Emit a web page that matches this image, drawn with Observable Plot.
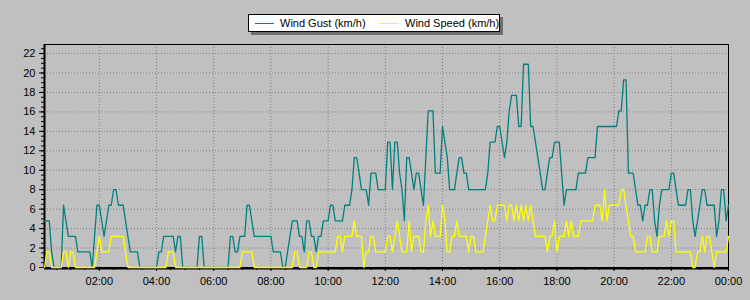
<!DOCTYPE html>
<html>
<head>
<meta charset="utf-8">
<script src="https://cdn.jsdelivr.net/npm/d3@7"></script>
<script src="https://cdn.jsdelivr.net/npm/@observablehq/plot@0.6"></script>
<style>
  html, body { margin: 0; padding: 0; background: #c0c0c0; }
  #wrap { position: relative; width: 750px; height: 300px; overflow: hidden; background: #c0c0c0; }
  #legend { position: absolute; left: 248px; top: 14px; width: 250px; height: 16px; background: #fff;
            border: 1px solid #000; box-shadow: 3px 3px 0 #6f6f6f;
            font: 11px Arial, "Liberation Sans", sans-serif; color: #000; }
  #legend .sw { position: absolute; top: 8px; height: 1px; width: 19px; }
  #legend .lb { position: absolute; top: 1px; line-height: 14px; white-space: nowrap; }
</style>
</head>
<body>
<div id="wrap"><div id="chart"></div><div id="legend"></div></div>
<script>
// ---- data (5-minute samples, 00:05 .. 24:00) ----
const startUTC = Date.UTC(2021, 0, 1, 0, 0);
const stepMinutes = 5;

const gustKmh = [
  4.8,4.8,4.8,1.6,0,0,0,0,6.4,4.8,
  3.2,3.2,3.2,3.2,1.6,1.6,1.6,1.6,1.6,1.6,
  0,3.2,6.4,6.4,4.8,3.2,4.8,6.4,6.4,8,
  8,6.4,6.4,6.4,4.8,3.2,1.6,1.6,1.6,1.6,
  0,0,0,0,0,0,0,0,1.6,1.6,
  3.2,3.2,3.2,3.2,3.2,1.6,3.2,3.2,0,0,
  0,0,0,0,0,3.2,3.2,0,0,0,
  0,0,0,0,0,0,0,0,3.2,3.2,
  1.6,1.6,3.2,3.2,3.2,6.4,6.4,4.8,3.2,3.2,
  3.2,3.2,3.2,3.2,3.2,3.2,1.6,1.6,1.6,1.6,
  0,0,1.6,3.2,4.8,4.8,4.8,3.2,3.2,1.6,
  4.8,4.8,3.2,3.2,1.6,3.2,3.2,4.8,4.8,4.8,
  6.4,6.4,4.8,4.8,4.8,4.8,6.4,6.4,6.4,8,
  11.3,11.3,9.7,8,8,8,6.4,9.7,9.7,9.7,
  8,8,8,8,12.9,12.9,8,12.9,12.9,9.7,
  8,4.8,11.3,11.3,9.7,8,9.7,9.7,8,6.4,
  11.3,16.1,16.1,16.1,9.7,9.7,9.7,14.5,12.9,11.3,
  8,8,8,9.7,11.3,11.3,9.7,9.7,8,8,
  8,8,8,8,8,8,9.7,12.9,12.9,12.9,
  14.5,14.5,12.9,11.3,12.9,16.1,17.7,17.7,17.7,14.5,
  14.5,20.9,20.9,20.9,14.5,14.5,12.9,11.3,9.7,8,
  8,9.7,11.3,11.3,12.9,12.9,12.9,9.7,6.4,8,
  8,8,8,8,9.7,9.7,9.7,9.7,11.3,11.3,
  11.3,11.3,14.5,14.5,14.5,14.5,14.5,14.5,14.5,14.5,
  14.5,16.1,16.1,19.3,19.3,9.7,9.7,9.7,8,6.4,
  6.4,4.8,6.4,6.4,8,8,4.8,3.2,6.4,8,
  8,8,8,9.7,9.7,8,6.4,6.4,6.4,6.4,
  8,8,4.8,3.2,4.8,6.4,8,8,6.4,6.4,
  6.4,6.4,3.2,4.8,8,8,4.8,6.4
];

const speedKmh = [
  0,1.6,1.6,0,0,0,0,0,1.6,1.6,
  0,1.6,1.6,0,0,0,0,0,0,0,
  0,0,1.6,3.2,1.6,1.6,1.6,1.6,3.2,3.2,
  3.2,3.2,3.2,3.2,1.6,0,0,0,0,0,
  0,0,0,0,0,0,0,0,0,0,
  0,0,1.6,1.6,1.6,0,0,0,0,0,
  0,0,0,0,0,0,0,0,0,0,
  0,0,0,0,0,0,0,0,0,0,
  0,0,0,1.6,1.6,1.6,1.6,1.6,0,0,
  0,0,0,0,0,0,0,0,0,0,
  0,0,0,0,0,1.6,1.6,0,0,0,
  0,1.6,1.6,0,0,1.6,1.6,1.6,1.6,1.6,
  1.6,1.6,1.6,3.2,3.2,1.6,3.2,3.2,3.2,3.2,
  4.8,3.2,3.2,3.2,0,1.6,1.6,3.2,3.2,1.6,
  1.6,1.6,1.6,1.6,3.2,3.2,1.6,3.2,4.8,3.2,
  1.6,1.6,1.6,4.8,1.6,3.2,3.2,3.2,1.6,1.6,
  4.8,6.4,3.2,4.8,3.2,3.2,3.2,6.4,4.8,1.6,
  1.6,3.2,3.2,4.8,3.2,3.2,3.2,3.2,1.6,3.2,
  3.2,1.6,1.6,1.6,1.6,3.2,4.8,6.4,4.8,4.8,
  6.4,6.4,6.4,6.4,4.8,6.4,6.4,4.8,6.4,4.8,
  6.4,4.8,6.4,4.8,6.4,4.8,3.2,3.2,3.2,3.2,
  3.2,1.6,3.2,3.2,4.8,1.6,3.2,3.2,3.2,4.8,
  3.2,4.8,3.2,3.2,3.2,4.8,4.8,4.8,4.8,4.8,
  4.8,6.4,6.4,6.4,4.8,8,4.8,6.4,6.4,6.4,
  6.4,6.4,8,8,6.4,4.8,3.2,3.2,1.6,1.6,
  1.6,1.6,1.6,3.2,3.2,1.6,1.6,1.6,3.2,3.2,
  3.2,4.8,3.2,4.8,4.8,1.6,1.6,1.6,1.6,1.6,
  1.6,1.6,0,0,1.6,1.6,3.2,1.6,3.2,3.2,
  1.6,0,1.6,1.6,1.6,1.6,1.6,3.2
];

const seriesNames = ["Wind Gust (km/h)", "Wind Speed (km/h)"];
const seriesColors = ["#008080", "#ffff00"];
const yTicks = [0, 2, 4, 6, 8, 10, 12, 14, 16, 18, 20, 22];
const xTickHours = [2, 4, 6, 8, 10, 12, 14, 16, 18, 20, 22, 24];

// ---- build ----
const timeAt = i => new Date(startUTC + (i + 1) * stepMinutes * 60000);
const gustRows = gustKmh.map((v, i) => ({t: timeAt(i), v, s: seriesNames[0]}));
const speedRows = speedKmh.map((v, i) => ({t: timeAt(i), v, s: seriesNames[1]}));
const xDomain = [timeAt(0), timeAt(gustKmh.length - 1)];
const xTicks = xTickHours.map(h => new Date(startUTC + h * 3600000));
const xMinor = d3.range(1, 49).map(k => new Date(startUTC + k * 1800000))
  .filter(d => d >= xDomain[0] && d <= xDomain[1]);
const yMinor = d3.range(0, 23, 0.5);
const grid = {stroke: "#808080", strokeOpacity: 1, strokeDasharray: "1,2", strokeWidth: 1};

const chart = Plot.plot({
  width: 750, height: 300,
  marginLeft: 44, marginRight: 22, marginTop: 44, marginBottom: 33,
  style: {background: "#c0c0c0", fontFamily: "Arial, 'Liberation Sans', sans-serif", fontSize: "11px", color: "#000", overflow: "visible"},
  x: {type: "utc", domain: xDomain},
  y: {domain: [0, 22.93]},
  color: {domain: seriesNames, range: seriesColors},
  marks: [
    Plot.gridX({ticks: xTicks, ...grid}),
    Plot.gridY({ticks: yTicks.filter(d => d > 0), ...grid}),
    Plot.frame({stroke: "#000", strokeWidth: 1}),
    Plot.axisX({ticks: xMinor, tickSize: 3, tickFormat: () => "", label: null, stroke: "#000"}),
    Plot.axisX({ticks: xTicks, tickSize: 4, tickPadding: 6, tickFormat: d3.utcFormat("%H:%M"), label: null, stroke: "#000", fill: "#000", fontSize: 11}),
    Plot.axisY({ticks: yMinor, tickSize: 3, tickFormat: () => "", label: null, stroke: "#000"}),
    Plot.axisY({ticks: yTicks, tickSize: 5, tickPadding: 4, label: null, stroke: "#000", fill: "#000", fontSize: 11}),
    Plot.ruleY([0], {stroke: "#000", strokeWidth: 2, dy: 1}),
    Plot.ruleX([xDomain[0]], {stroke: "#000", strokeWidth: 2}),
    Plot.line(gustRows, {x: "t", y: "v", stroke: "s", strokeWidth: 1.3}),
    Plot.line(speedRows, {x: "t", y: "v", stroke: "s", strokeWidth: 1.3})
  ]
});
document.getElementById("chart").appendChild(chart);

// ---- legend ----
const legend = document.getElementById("legend");
const swLeft = [6, 130], lbLeft = [31, 156];
seriesNames.forEach((name, k) => {
  const sw = document.createElement("div");
  sw.className = "sw"; sw.style.left = swLeft[k] + "px"; sw.style.background = seriesColors[k];
  legend.appendChild(sw);
  const lb = document.createElement("div");
  lb.className = "lb"; lb.style.left = lbLeft[k] + "px"; lb.textContent = name;
  legend.appendChild(lb);
});
</script>
</body>
</html>
